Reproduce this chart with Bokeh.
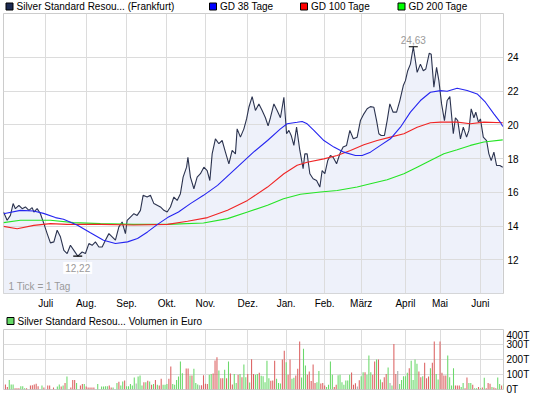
from bokeh.plotting import figure
from bokeh.models import Range1d, FixedTicker, Label
from bokeh.layouts import column
from bokeh.core.properties import value
from bokeh.embed import file_html
from bokeh.resources import INLINE

FONT = "Liberation Sans"
FS = "10px"

# ---------------- data ----------------
month_labels = ["Juli", "Aug.", "Sep.", "Okt.", "Nov.", "Dez.", "Jan.", "Feb.", "März", "April", "Mai", "Juni"]
month_days = [22, 43, 64, 85, 105, 127, 147, 167, 186, 209, 227, 248]   # trading-day index of month start
price_ticks = [12, 14, 16, 18, 20, 22, 24]
vol_ticks = [0, 100, 200, 300, 400]
vol_tick_labels = ["0T", "100T", "200T", "300T", "400T"]

price_label = "Silver Standard Resou... (Frankfurt)"
vol_label = "Silver Standard Resou... Volumen in Euro"
ma_labels = ["GD 38 Tage", "GD 100 Tage", "GD 200 Tage"]
scale_note = "1 Tick = 1 Tag"

price_day = [0, 1.9, 3.6, 5.0, 6.2, 8.0, 9.7, 11.4, 13.2, 14.9,
             15.8, 17.5, 19.2, 21.0, 22.7, 24.4, 26.2, 27.9, 29.6, 31.4,
             33.1, 34.8, 36.6, 38.6, 40.9, 42.6, 44.4, 46.1, 47.8, 49.6,
             51.3, 53.0, 54.8, 56.5, 58.2, 60.0, 61.7, 63.4, 64.3, 66.0,
             67.8, 69.5, 71.2, 72.6, 74.7, 76.4, 78.2, 79.9, 81.6, 83.4,
             85.1, 86.8, 88.6, 90.3, 92.0, 93.4, 95.2, 95.9, 97.2, 99.0,
             100.7, 102.4, 104.2, 105.9, 107.3, 108.5, 110.2, 112.0, 113.7, 115.4,
             117.2, 118.9, 120.6, 121.5, 123.2, 125.0, 126.4, 127.6, 129.3, 131.0,
             132.8, 134.5, 136.2, 137.6, 138.8, 140.6, 142.3, 144.0, 145.8, 147.2,
             148.4, 149.6, 151.0, 152.4, 154.1, 155.8, 156.7, 157.9, 159.3, 161.0,
             162.8, 164.5, 165.7, 167.1, 168.6, 170.0, 171.4, 173.2, 174.9, 176.6,
             178.4, 180.1, 181.9, 183.9, 185.6, 187.4, 189.1, 190.8, 192.6, 194.0,
             195.2, 196.4, 198.1, 199.5, 200.9, 202.6, 204.4, 206.1, 207.9, 209.0,
             210.2, 211.6, 213.1, 215.1, 216.8, 218.3, 219.6, 221.4, 222.4, 223.8,
             225.2, 226.4, 227.8, 229.3, 230.7, 232.1, 233.9, 235.0, 236.2, 237.6,
             239.1, 240.8, 242.0, 243.2, 244.6, 245.6, 247.0, 248.0, 249.5, 251.2,
             252.4, 253.6, 255.0, 256.4, 258.1, 259.6]
price_val = [14.83, 14.34, 14.63, 15.33, 15.03, 15.23, 15.03, 15.13, 14.93, 15.09,
             14.83, 15.03, 14.73, 14.14, 13.55, 13.0, 13.06, 13.75, 13.36, 12.56,
             12.37, 12.86, 12.56, 12.22, 12.46, 12.37, 12.96, 12.86, 13.06, 12.76,
             12.76, 13.16, 13.55, 13.36, 13.16, 13.95, 14.24, 13.55, 14.34, 14.53,
             14.73, 14.63, 14.93, 15.82, 15.72, 15.82, 15.33, 15.23, 15.13, 14.93,
             14.83, 15.13, 15.72, 15.52, 15.92, 16.9, 17.49, 18.08, 16.9, 16.21,
             16.9, 17.1, 17.49, 17.29, 16.7, 18.28, 19.17, 18.88, 19.07, 18.38,
             17.69, 18.48, 18.28, 19.76, 19.27, 19.76, 20.35, 21.04, 21.67, 20.85,
             21.24, 20.85, 20.42, 19.94, 20.42, 21.24, 20.85, 20.42, 21.63, 19.47,
             19.67, 19.37, 18.78, 19.86, 18.48, 17.4, 18.28, 18.28, 17.1, 16.8,
             16.7, 16.31, 17.29, 17.1, 17.88, 18.18, 18.08, 17.69, 18.28, 18.68,
             18.78, 19.67, 19.17, 19.27, 20.25, 20.65, 20.95, 21.08, 21.04, 20.25,
             19.47, 19.37, 19.37, 20.25, 21.24, 20.75, 20.75, 21.44, 22.33, 22.62,
             23.21, 23.6, 24.63, 23.11, 23.6, 23.21, 23.31, 24.25, 24.19, 22.23,
             23.41, 22.62, 21.24, 20.25, 21.44, 21.67, 19.47, 20.42, 20.25, 19.17,
             19.86, 19.27, 19.67, 20.95, 20.42, 20.75, 20.15, 20.35, 19.27, 19.07,
             18.28, 17.88, 18.38, 17.59, 17.59, 17.49]

ma38_day = [0, 8.8, 15.6, 20.8, 27.0, 31.2, 38.5, 45.2, 52.0, 58.2,
            64.5, 69.7, 74.9, 80.1, 85.3, 91.0, 97.2, 104.0, 111.3, 119.6,
            130.0, 137.3, 144.0, 147.5, 152.7, 155.3, 157.9, 161.4, 166.6, 171.8,
            177.0, 183.0, 186.5, 190.8, 196.0, 201.2, 206.4, 211.6, 216.8, 222.0,
            227.3, 230.7, 235.9, 241.1, 246.3, 250.6, 255.0, 258.4, 259.6]
ma38_val = [14.73, 14.93, 14.89, 14.75, 14.5, 14.4, 14.05, 13.6, 13.16, 12.96,
            13.06, 13.26, 13.65, 14.1, 14.5, 14.83, 15.33, 15.82, 16.41, 17.29,
            18.38, 19.07, 19.76, 20.06, 20.15, 20.2, 20.06, 19.67, 19.07, 18.68,
            18.38, 18.18, 18.18, 18.38, 18.78, 19.17, 19.86, 20.75, 21.44, 21.93,
            22.03, 21.99, 22.17, 22.03, 21.83, 21.34, 20.65, 20.15, 19.9]

ma100_day = [0, 7.1, 15.8, 24.4, 33.1, 50.4, 67.6, 85.3, 95.7, 106.1,
             116.5, 126.9, 137.3, 145.8, 152.7, 157.9, 166.6, 173.5, 180.4, 187.4,
             194.3, 201.2, 208.2, 215.1, 222.0, 227.3, 235.9, 242.8, 249.8, 259.6]
ma100_val = [13.98, 13.84, 14.04, 14.14, 14.1, 14.1, 14.06, 14.1, 14.28, 14.5,
             14.93, 15.52, 16.31, 17.1, 17.6, 17.78, 17.98, 18.18, 18.48, 18.82,
             19.07, 19.27, 19.47, 19.86, 20.12, 20.16, 20.16, 20.06, 20.16, 20.12]

ma200_day = [0, 8.8, 24.4, 36.4, 50.4, 67.6, 85.3, 104.0, 116.5, 126.9,
             137.3, 145.6, 154.4, 164.8, 173.5, 183.9, 190.8, 199.5, 208.2, 215.1,
             222.0, 229.0, 235.9, 242.8, 249.8, 259.6]
ma200_val = [14.2, 14.34, 14.34, 14.2, 14.14, 14.1, 14.1, 14.18, 14.44, 14.83,
             15.23, 15.62, 15.88, 16.02, 16.11, 16.31, 16.51, 16.74, 17.1, 17.49,
             17.88, 18.28, 18.52, 18.78, 18.98, 19.11]

# daily volume in thousand euro (T), one entry per trading day
vol_val = [33, 16, 64, 33, 33, 9, 9, 9, 22, 22,
           9, 9, 0, 27, 29, 33, 38, 22, 0, 27,
           13, 0, 27, 27, 0, 13, 0, 20, 33, 20,
           27, 44, 87, 0, 13, 64, 64, 44, 0, 27,
           36, 36, 20, 13, 13, 13, 13, 0, 36, 0,
           20, 20, 22, 22, 27, 13, 13, 0, 44, 51,
           27, 53, 60, 22, 22, 36, 27, 80, 40, 87,
           93, 27, 49, 49, 58, 53, 31, 36, 64, 31,
           27, 71, 31, 31, 36, 71, 153, 36, 31, 64,
           87, 187, 109, 0, 140, 140, 93, 93, 138, 44,
           33, 29, 29, 95, 38, 36, 98, 104, 107, 193,
           215, 127, 75, 75, 131, 75, 187, 107, 33, 104,
           44, 98, 104, 82, 167, 82, 104, 47, 202, 104,
           98, 104, 111, 91, 89, 49,
           191, 75, 58, 60, 191, 71, 44, 40, 200, 258,
           182, 98, 200, 71, 78, 93, 138, 320, 80, 271,
           160, 98, 120, 56, 167, 44, 49, 124, 40, 44,
           27, 16, 31, 187, 98, 16, 31, 95, 98, 49,
           31, 60, 60, 98, 113, 31, 42, 20, 62, 89,
           115, 115, 98, 226, 115, 98, 187, 200, 200, 67,
           49, 82, 104, 147, 44, 27, 304, 104, 124, 36,
           64, 89, 89, 111, 142, 191, 64, 200, 171, 120,
           82, 89, 178, 75, 87, 142, 178, 320, 104, 67,
           320, 111, 93, 93, 226, 82, 27, 142, 27, 27,
           27, 16, 44, 9, 80, 44, 44, 31, 9, 9,
           16, 9, 13, 78, 9, 44, 38, 16, 13, 9,
           80, 36, 27, 38]
# g = up day, r = down day, n = unchanged
vol_dir = ("rrgggrrrgg" "grgrrrrrgg" "rgrrgrgggr" "grggrrrggr" "rgrrrrrggg"
           "ggggrrgggr" "ggrgggggng" "ggrgrgrgrg" "rrgggrrggg" "ggggrrgrgg"
           "gnrrrrggrr" "rgrrgrgrrg" "grgrggrgrr" "ggrggg"
           "ggrrrgggrr" "grrggrrrgg" "grrrrrggrr" "rggggrrggg" "ggggrrrnrg"
           "grgggrrgrg" "rrrgngrrng" "ggggrggggr" "rgrrrgrrgg" "rrrrggggrr"
           "rggrrggrgg" "rgrgrrrgrr" "ggrg")
assert len(vol_val) == len(vol_dir)
assert len(price_day) == len(price_val)
vol_day = list(range(1, len(vol_val) + 1))

# ---------------- styling ----------------
X_LO, X_HI = 0, 260
Y_LO, Y_HI = 10.0, 26.6
FRAME_W = 500
LEFT = 3
TOTAL_W = 540
GRID = "#dcdcdc"
BORDER = "#cccccc"

C_PRICE = "#2b334f"
C_FILL = "#eef1fa"
C_MA = ["#2525f0", "#f02525", "#25e425"]
C_KEYS = ["#1c2a52", "#0000ff", "#ff0000", "#00ff00"]
C_VOL_KEY = "#66d966"
VOL_COL = {"g": "#6ad86a", "r": "#dc6262", "n": "#ababab"}


def style_axis(ax, standoff):
    ax.major_tick_line_color = None
    ax.minor_tick_line_color = None
    ax.major_tick_out = 0
    ax.major_tick_in = 0
    ax.minor_tick_out = 0
    ax.minor_tick_in = 0
    ax.axis_line_color = None
    ax.major_label_standoff = standoff
    ax.major_label_text_font = FONT
    ax.major_label_text_font_size = FS
    ax.major_label_text_color = "black"


def legend_row(labels, colors, starts, height, center_from_top):
    """A thin strip holding square colour keys and their texts (positions in px)."""
    lf = figure(frame_width=TOTAL_W, frame_height=height,
                x_range=Range1d(0, TOTAL_W), y_range=Range1d(0, height),
                output_backend="svg", toolbar_location=None, min_border=0,
                outline_line_color=None, background_fill_color="white",
                border_fill_color="white")
    lf.axis.visible = False
    lf.grid.visible = False
    cy = height - center_from_top
    lf.rect(x=[s + 4 for s in starts], y=[cy] * len(starts), width=7, height=7,
            fill_color=colors, line_color="black", line_width=1)
    lf.text(x=[s + 11 for s in starts], y=[cy] * len(starts), text=labels,
            text_align="left", text_baseline="middle",
            text_font=value(FONT), text_font_size=value(FS), text_color="black")
    return lf


# ---------------- legend strip (top) ----------------
top_leg = legend_row([price_label] + ma_labels, C_KEYS, [2, 205.5, 296.5, 394], 13, 6)

# ---------------- main price chart ----------------
main = figure(frame_width=FRAME_W, frame_height=280,
              x_range=Range1d(X_LO, X_HI), y_range=Range1d(Y_LO, Y_HI),
              y_axis_location="right", output_backend="svg", toolbar_location=None,
              min_border=0, min_border_left=LEFT, min_border_bottom=20,
              outline_line_color=BORDER,
              background_fill_color="white", border_fill_color="white")

main.xaxis.ticker = FixedTicker(ticks=month_days)
main.xaxis.major_label_overrides = {d: l for d, l in zip(month_days, month_labels)}
style_axis(main.xaxis, 4)
main.yaxis.ticker = FixedTicker(ticks=price_ticks)
style_axis(main.yaxis, 4)
main.xgrid.grid_line_color = GRID
main.ygrid.grid_line_color = GRID

area = main.varea(x=price_day, y1=Y_LO, y2=price_val, fill_color=C_FILL)
area.level = "image"
main.line(price_day, price_val, line_color=C_PRICE, line_width=1.1)
main.line(ma200_day, ma200_val, line_color=C_MA[2], line_width=1.1)
main.line(ma100_day, ma100_val, line_color=C_MA[1], line_width=1.1)
main.line(ma38_day, ma38_val, line_color=C_MA[0], line_width=1.1)

# extreme markers
i_min = price_val.index(min(price_val))
i_max = price_val.index(max(price_val))
main.scatter([price_day[i_min], price_day[i_max]], [price_val[i_min], price_val[i_max]],
             marker="dash", size=9, line_color="black", line_width=1.2)
main.add_layout(Label(x=price_day[i_min], y=price_val[i_min], y_offset=-6,
                      text=f"{price_val[i_min]:.2f}".replace(".", ","),
                      text_align="center", text_baseline="top",
                      text_font=FONT, text_font_size=FS, text_color="#9a9a9a",
                      background_fill_color="white", background_fill_alpha=0.9,
                      padding=2))
main.add_layout(Label(x=price_day[i_max], y=price_val[i_max], y_offset=3,
                      text=f"{price_val[i_max]:.2f}".replace(".", ","),
                      text_align="center", text_baseline="bottom",
                      text_font=FONT, text_font_size=FS, text_color="#9a9a9a"))
main.add_layout(Label(x=5, y=2, x_units="screen", y_units="screen", text=scale_note,
                      text_align="left", text_baseline="bottom",
                      text_font=FONT, text_font_size=FS, text_color="#9a9a9a"))

# ---------------- legend strip (volume) ----------------
vol_leg = legend_row([vol_label], [C_VOL_KEY], [3], 16, 7.5)

# ---------------- volume chart ----------------
vol = figure(frame_width=FRAME_W, frame_height=60,
             x_range=main.x_range, y_range=Range1d(0, 400),
             y_axis_location="right", output_backend="svg", toolbar_location=None,
             min_border=0, min_border_left=LEFT, min_border_bottom=8,
             outline_line_color=BORDER,
             background_fill_color="white", border_fill_color="white")
vol.xaxis.visible = False
vol.xgrid.ticker = FixedTicker(ticks=month_days)
vol.yaxis.ticker = FixedTicker(ticks=vol_ticks)
vol.yaxis.major_label_overrides = {t: l for t, l in zip(vol_ticks, vol_tick_labels)}
style_axis(vol.yaxis, 3)
vol.xgrid.grid_line_color = GRID
vol.ygrid.grid_line_color = GRID

vol.vbar(x=vol_day, top=vol_val, width=0.55,
         fill_color=[VOL_COL[c] for c in vol_dir], line_color=None)

layout = column(top_leg, main, vol_leg, vol, spacing=0)
open("out.html", "w").write(file_html(layout, INLINE))
